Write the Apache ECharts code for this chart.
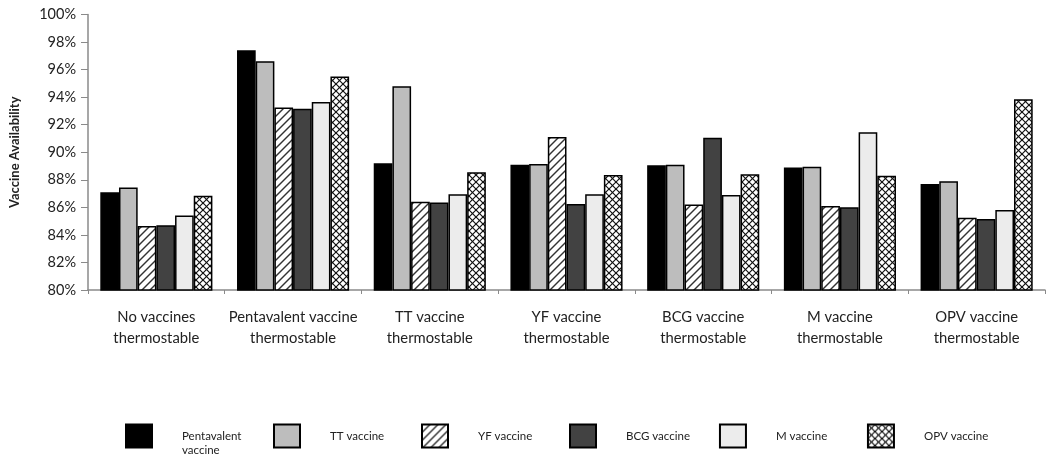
<!DOCTYPE html>
<html><head><meta charset="utf-8">
<script src="https://cdn.jsdelivr.net/npm/echarts@6/dist/echarts.min.js"></script>
<style>html,body{margin:0;padding:0;background:#fff}#c{width:1050px;height:465px}</style>
</head><body><div id="c"></div>
<script>
const categories = ['No vaccines\nthermostable','Pentavalent vaccine\nthermostable','TT vaccine\nthermostable','YF vaccine\nthermostable','BCG vaccine\nthermostable','M vaccine\nthermostable','OPV vaccine\nthermostable'];
const seriesNames = ['Pentavalent vaccine','TT vaccine','YF vaccine','BCG vaccine','M vaccine','OPV vaccine'];
const pentavalent = [87.1, 97.4, 89.2, 89.1, 89.05, 88.9, 87.7];
const tt          = [87.45, 96.6, 94.8, 89.15, 89.1, 88.95, 87.9];
const yf          = [84.65, 93.25, 86.4, 91.1, 86.2, 86.1, 85.25];
const bcg         = [84.7, 93.15, 86.35, 86.25, 91.05, 86.0, 85.15];
const mv          = [85.4, 93.65, 86.95, 86.95, 86.9, 91.45, 85.8];
const opv         = [86.85, 95.5, 88.55, 88.35, 88.4, 88.3, 93.85];
const yTicks = [80, 82, 84, 86, 88, 90, 92, 94, 96, 98, 100];

function hatch(cross){
  const s = cross ? 7 : 8;
  const c = document.createElement('canvas'); c.width = s; c.height = s;
  const g = c.getContext('2d');
  g.fillStyle = '#fff'; g.fillRect(0,0,s,s);
  g.strokeStyle = cross ? '#111' : '#333'; g.lineWidth = cross ? 1.2 : 1.4;
  const line = (x1,y1,x2,y2)=>{g.beginPath();g.moveTo(x1,y1);g.lineTo(x2,y2);g.stroke();};
  line(-1,s+1,s+1,-1); line(-1,1,1,-1); line(s-1,s+1,s+1,s-1);
  if (cross){ line(-1,-1,s+1,s+1); line(s-1,-1,s+1,1); line(-1,s-1,1,s+1); }
  return {image:c, repeat:'repeat'};
}
const fills = ['#000000','#bdbdbd',hatch(false),'#424242','#ececec',hatch(true)];
const datasets = [pentavalent, tt, yf, bcg, mv, opv];

const font = 'Lato, "Open Sans", sans-serif';
const chart = echarts.init(document.getElementById('c'), null, {renderer:'canvas'});
chart.setOption({
  animation:false,
  backgroundColor:'#fff',
  grid:{left:80, right:5, top:14.5, bottom:175, containLabel:false},
  xAxis:{type:'category', data:categories,
    axisLine:{lineStyle:{color:'#8a8a8a', width:1.5}},
    axisTick:{show:true, length:4, lineStyle:{color:'#8a8a8a'}},
    axisLabel:{color:'#222', fontFamily:font, fontSize:14.8, lineHeight:21, margin:17, interval:0}},
  yAxis:{type:'value', min:80, max:100, interval:2,
    name:'Vaccine Availability', nameLocation:'middle', nameGap:67, nameRotate:90,
    nameTextStyle:{fontFamily:font, fontWeight:'bold', fontSize:13, color:'#222'},
    splitLine:{show:false},
    axisLine:{show:true, lineStyle:{color:'#8a8a8a', width:1.5}},
    axisTick:{show:true, length:7, lineStyle:{color:'#8a8a8a'}},
    axisLabel:{color:'#222', fontFamily:font, fontSize:14.5, margin:12, formatter: v => yTicks.includes(v) ? v + '%' : ''}},
  legend:{top:415, left:125, padding:0, itemWidth:26, itemHeight:23, itemGap:29, icon:'rect',
    formatter: n => n==='Pentavalent vaccine' ? '\nPentavalent\nvaccine' : n,
    textStyle:{fontFamily:font, fontSize:11.5, color:'#222', width:62, padding:[0,0,0,25], lineHeight:14}},
  series: seriesNames.map((n,i)=>({
    name: n, type:'bar', barGap:'0%', barCategoryGap:'18%',
    data: datasets[i],
    itemStyle:{color: fills[i], borderColor:'#000', borderWidth:1.5}
  }))
});
</script></body></html>
